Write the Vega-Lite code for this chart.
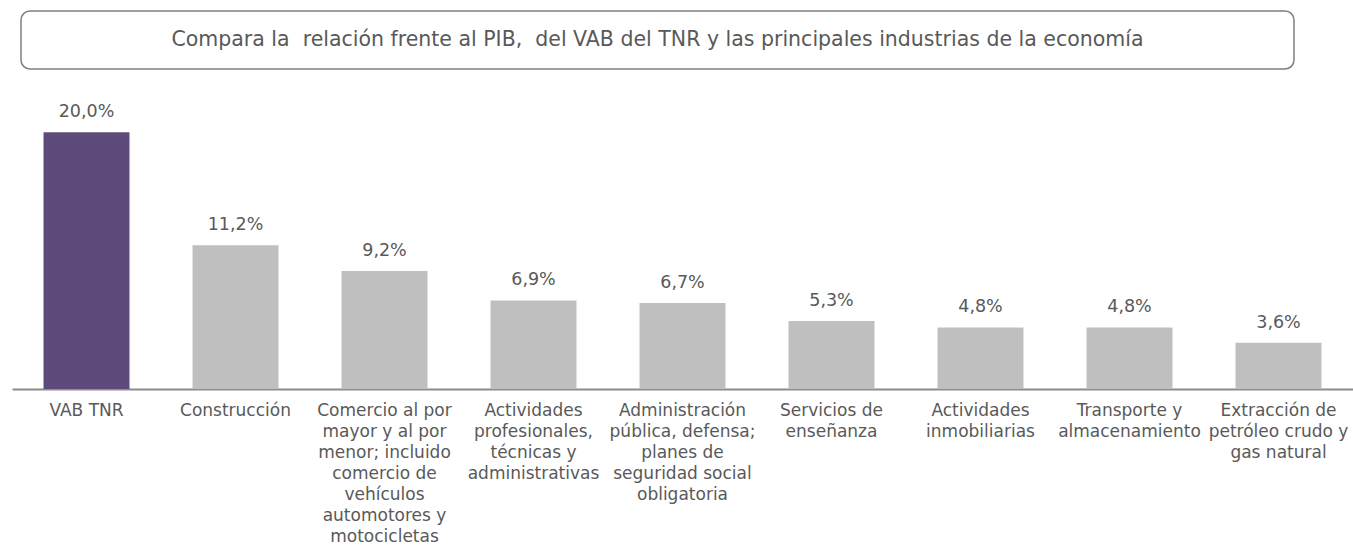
{
  "$schema": "https://vega.github.io/schema/vega-lite/v6.json",
  "padding": {"left": 20, "top": 10, "right": 0, "bottom": 0},
  "background": "white",
  "spacing": 11,
  "config": {
    "view": {"stroke": null},
    "font": "DejaVu Sans",
    "locale": {"number": {"decimal": ",", "thousands": ".", "grouping": [3], "currency": ["", " €"]}}
  },
  "vconcat": [
    {
      "width": 1273,
      "height": 58,
      "view": {"stroke": "#7f7f7f", "strokeWidth": 1.5, "cornerRadius": 9},
      "data": {"values": [{"titulo": "Compara la\u00a0 relación frente al PIB,\u00a0 del VAB del TNR y las principales industrias de la economía"}]},
      "mark": {"type": "text", "font": "DejaVu Sans", "fontSize": 20.5, "color": "#595959", "baseline": "middle", "align": "center"},
      "encoding": {
        "text": {"field": "titulo", "type": "nominal"}
      }
    },
    {
      "width": 1332,
      "height": 308,
      "data": {"values": [
        {"categoria": "VAB TNR", "valor": 0.200, "grupo": "TNR"},
        {"categoria": "Construcción", "valor": 0.112, "grupo": "Industria"},
        {"categoria": "Comercio al por\nmayor y al por\nmenor; incluido\ncomercio de\nvehículos\nautomotores y\nmotocicletas", "valor": 0.092, "grupo": "Industria"},
        {"categoria": "Actividades\nprofesionales,\ntécnicas y\nadministrativas", "valor": 0.069, "grupo": "Industria"},
        {"categoria": "Administración\npública, defensa;\nplanes de\nseguridad social\nobligatoria", "valor": 0.067, "grupo": "Industria"},
        {"categoria": "Servicios de\nenseñanza", "valor": 0.053, "grupo": "Industria"},
        {"categoria": "Actividades\ninmobiliarias", "valor": 0.048, "grupo": "Industria"},
        {"categoria": "Transporte y\nalmacenamiento", "valor": 0.048, "grupo": "Industria"},
        {"categoria": "Extracción de\npetróleo crudo y\ngas natural", "valor": 0.036, "grupo": "Industria"}
      ]},
      "encoding": {
        "x": {
          "field": "categoria", "type": "nominal", "sort": null,
          "scale": {"range": [-9, 1332], "paddingInner": 0.423, "paddingOuter": 0.2115},
          "axis": {
            "title": null, "labelAngle": 0, "ticks": false, "tickSize": 0,
            "domainColor": "#8c8c8c", "domainWidth": 2,
            "labelPadding": 13, "labelFont": "DejaVu Sans", "labelFontSize": 17,
            "labelColor": "#595959", "labelLineHeight": 21, "labelBaseline": "top",
            "labelLimit": 0, "labelExpr": "split(datum.label, '\\n')"
          }
        },
        "y": {"field": "valor", "type": "quantitative", "scale": {"domain": [0, 0.24]}, "axis": null}
      },
      "layer": [
        {
          "mark": {"type": "bar"},
          "encoding": {
            "color": {"field": "grupo", "type": "nominal", "scale": {"domain": ["TNR", "Industria"], "range": ["#5f4b7b", "#bfbfbf"]}, "legend": null}
          }
        },
        {
          "mark": {"type": "text", "dy": -15, "baseline": "alphabetic", "font": "DejaVu Sans", "fontSize": 17.5, "color": "#595959"},
          "encoding": {
            "text": {"field": "valor", "type": "quantitative", "format": ".1%"}
          }
        }
      ]
    }
  ]
}
